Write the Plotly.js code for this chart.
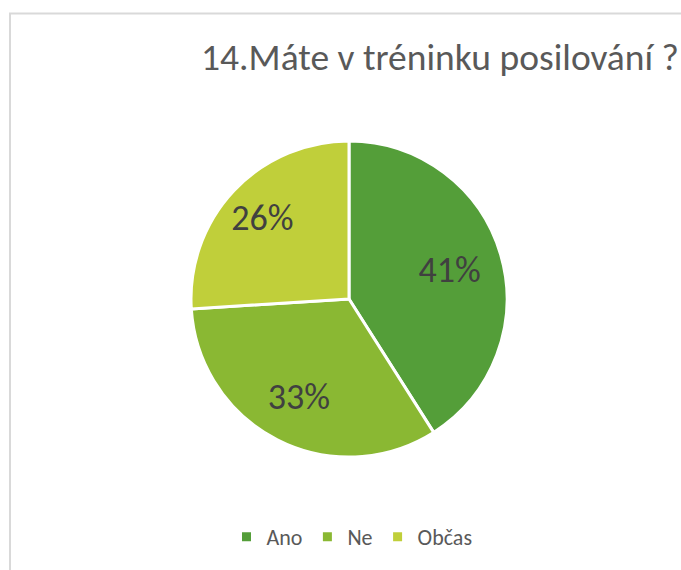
<!DOCTYPE html>
<html>
<head>
<meta charset="utf-8">
<script src="https://cdn.plot.ly/plotly-3.0.1.min.js"></script>
<style>html,body{margin:0;padding:0;background:#fff;}#chart{width:681px;height:570px;}</style>
</head>
<body>
<div id="chart"></div>
<script>
const categories = ["Ano", "Ne", "Občas"];
const values = [41, 33, 26];
const colors = ["#549E39", "#8AB833", "#C0CF3A"];
const titleText = "14.Máte v tréninku posilování ?";

const W = 681, H = 570;
const cx = 349, cy = 299, r = 158;
const labelScale = 1.3;
const font = "Carlito, Lato, sans-serif";

function dom(rad) {
  return { x: [(cx - rad) / W, (cx + rad) / W], y: [1 - (cy + rad) / H, 1 - (cy - rad) / H] };
}

const pieTrace = {
  type: "pie",
  labels: categories,
  values: values,
  sort: false,
  direction: "clockwise",
  rotation: 0,
  marker: { colors: colors, line: { color: "#ffffff", width: 3 } },
  textinfo: "none",
  hoverinfo: "none",
  domain: dom(r)
};

const labelTrace = {
  type: "pie",
  labels: categories,
  values: values,
  sort: false,
  direction: "clockwise",
  rotation: 0,
  showlegend: false,
  marker: { colors: ["rgba(0,0,0,0)", "rgba(0,0,0,0)", "rgba(0,0,0,0)"], line: { width: 0 } },
  texttemplate: "%{percent:.0%}",
  textposition: "inside",
  insidetextorientation: "horizontal",
  textfont: { family: font, size: 36, color: "#404040" },
  hoverinfo: "none",
  domain: dom(r * labelScale)
};

const layout = {
  width: W, height: H,
  margin: { l: 0, r: 0, t: 0, b: 0 },
  paper_bgcolor: "#ffffff",
  title: {
    text: titleText,
    font: { family: font, size: 37.5, color: "#595959" },
    x: 679 / W, xanchor: "right", xref: "paper",
    y: 1 - 57 / H, yanchor: "middle", yref: "paper"
  },
  showlegend: true,
  legend: {
    orientation: "h",
    x: 352 / W, xanchor: "center",
    y: 1 - 537 / H, yanchor: "middle",
    font: { family: font, size: 22, color: "#595959" },
    itemwidth: 30,
    traceorder: "normal"
  },
  shapes: [{
    type: "rect", xref: "paper", yref: "paper",
    x0: 10 / W, x1: 1.2, y0: -0.2, y1: 1 - 13.5 / H,
    line: { color: "#d9d9d9", width: 2 }, fillcolor: "rgba(0,0,0,0)", layer: "below"
  }]
};

Plotly.newPlot("chart", [pieTrace, labelTrace], layout, { displayModeBar: false, staticPlot: true });
</script>
</body>
</html>
